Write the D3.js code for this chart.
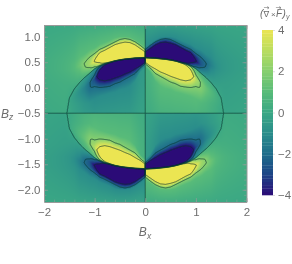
<!DOCTYPE html>
<html>
<head>
<meta charset="utf-8">
<script src="https://cdn.jsdelivr.net/npm/d3@7"></script>
<style>
  html, body { margin: 0; padding: 0; background: #fff; width: 292px; height: 264px; overflow: hidden; }
  #chart { position: relative; width: 292px; height: 264px; filter: blur(0.35px); }
  #chart canvas, #chart svg { position: absolute; left: 0; top: 0; }
  text { font-family: "Liberation Sans", sans-serif; fill: #6e6e6e; }
</style>
</head>
<body>
<div id="chart"></div>
<script>
var svgWidth = 292;
var svgHeight = 264;

var xTicks = [-2, -1, 0, 1, 2];
var zTicks = [-2, -1.5, -1, -0.5, 0, 0.5, 1];
var barTicks = [-4, -2, 0, 2, 4];
var contourLevels = [-4, -2, 0, 2, 4];

var colorDomain = [-4, -3, -2, -1, 0, 1, 2, 3, 4];
var colorRange = ["#2b0b77", "#1d4486", "#1f6d8b", "#2a8d8b", "#3aa784", "#58bb79", "#86cf6f", "#b9dd60", "#ebe552"];

// right upper quadrant (x = 0, 0.1 .. 2.1).
// each column is a stack of heights z with the value at that height, from the top of the plot down to z = -0.5.
// the other three quadrants are the same with the sign flipped.
var colStep = 0.1;
var vTop = [-.15, -.05, -.05, -.07, -.08, -.08, -.08, -.08, -.07, -.06, -.05, -.05, -.04, -.03, -.03, -.02, -.02, -.02, -.01, -.01, -.01, -.01];
var zA = [.8, .87, .94, .99, 1, 1, .98, .93, .89, .85, .78, .74, .66, .6, .55, .55, .55, .55, .55, .55, .55, .55];
var vA = [-1, -1, -1, -1, -1, -1, -1, -1, -1, -1, -1, -1, -1, -1, -.75, -.6, -.5, -.43, -.37, -.32, -.28, -.25];
var zB = [.75, .83, .9, .945, .965, .945, .895, .845, .795, .75, .67, .6, .52, .5, .45, .45, .45, .45, .45, .45, .45, .45];
var vB = [-2, -2, -2, -2, -2, -2, -2, -2, -2, -2, -2, -2, -1.85, -1.3, -.9, -.65, -.53, -.45, -.38, -.33, -.29, -.26];
var zC = [.7, .77, .84, .885, .895, .875, .845, .79, .735, .69, .6, .52, .47, .43, .38, .35, .35, .35, .35, .35, .35, .35];
var vC = [-4, -4, -4, -4, -4, -4, -4, -4, -4, -4, -3.4, -2.5, -2.05, -1.4, -.9, -.65, -.53, -.45, -.38, -.33, -.29, -.26];
var zS = [.64, .635, .63, .62, .61, .595, .575, .55, .53, .56, .52, .45, .4, .32, .2, .1, .1, .1, .1, .1, .1, .1];
var vS = [-9, -9, -9, -10, -10, -10, -10, -10, -9, -6, -4.2, -2.6, -1.9, -1, -.55, -.35, -.33, -.3, -.27, -.24, -.21, -.19];
var zZero = [.59, .585, .58, .57, .56, .545, .525, .5, .47, .43, .375, .285, .2, .1, -.02, -.2, -.8, -.8, -.8, -.8, -.8, -.8];
var vD = [-9, -9, -9, -10, -10, -10, -10, -8, -3.5, -2.5, -1.5, -.9, -.5, -.3, -.18, -.08, -.06, -.05, -.04, -.03, -.03, -.02];
var vE = [10, 10, 10, 10, 10, 10, 10, 4.5, 3, 1.8, .9, .7, .5, .3, .15, .05, 0, 0, 0, 0, 0, 0];
var zU = [.54, .535, .53, .52, .51, .495, .475, .44, .39, .3, .16, .1, 0, -.05, -.13, -.25, -.9, -.9, -.9, -.9, -.9, -.9];
var vU = [10, 10, 10, 10, 10, 10, 10, 9, 8, 5.5, 2.9, 1.9, 1.3, .8, .4, .08, 0, 0, 0, 0, 0, 0];
var zF = [.5, .425, .37, .31, .27, .225, .19, .155, .135, .155, .1, 0, -.05, -.1, -.18, -.3, -.9, -.9, -.9, -.9, -.9, -.9];
var vF = [4, 4, 4, 4, 4, 4, 4, 4, 4, 4, 2.5, 1.9, 1.3, .85, .42, .08, 0, 0, 0, 0, 0, 0];
var zG = [.47, .39, .28, .225, .17, .113, .08, .03, .015, .005, .025, -.05, -.1, -.15, -.22, -.35, -.9, -.9, -.9, -.9, -.9, -.9];
var vG = [2, 2, 2, 2, 2, 2, 2, 2, 2, 2, 2, 1.8, 1.2, .8, .4, .07, 0, 0, 0, 0, 0, 0];
var zH = [.4, .3, .12, .03, -.02, -.04, -.09, -.11, -.14, -.17, -.22, -.3, -.3, -.3, -.35, -.42, -.9, -.9, -.9, -.9, -.9, -.9];
var vH = [.5, .6, .8, 1, 1, 1, 1, 1, 1, 1, 1, .8, .7, .5, .28, .04, 0, 0, 0, 0, 0, 0];

var gap = 0.012;
var zStack = vTop.map(function(d, c) {
  return [1.3, zA[c], zB[c], zC[c], zS[c], zZero[c] + gap, zZero[c] - gap, zU[c], zF[c], zG[c], zH[c], -1];
});
var vStack = vTop.map(function(d, c) {
  return [vTop[c], vA[c], vB[c], vC[c], vS[c], vD[c], vE[c], vU[c], vF[c], vG[c], vH[c], 0];
});

function field(px, pz) {
  var sign = (px < 0 ? -1 : 1) * (pz < -0.5 ? -1 : 1);
  var ax = Math.abs(px);
  var az = pz < -0.5 ? -1 - pz : pz;
  var c = Math.min(Math.floor(ax / colStep), zStack.length - 2);
  var t = ax / colStep - c;
  var zs = zStack[c], ze = zStack[c + 1], vs = vStack[c], ve = vStack[c + 1];
  var zPrev = zs[0] + t * (ze[0] - zs[0]);
  var vPrev = vs[0] + t * (ve[0] - vs[0]);
  if (az >= zPrev) return sign * vPrev;
  for (var a = 1; a < zs.length; a++) {
    var zNow = zs[a] + t * (ze[a] - zs[a]);
    var vNow = vs[a] + t * (ve[a] - vs[a]);
    if (az >= zNow && zPrev > zNow) {
      return sign * (vNow + (az - zNow) / (zPrev - zNow) * (vPrev - vNow));
    }
    zPrev = zNow;
    vPrev = vNow;
  }
  return 0;
}

// contour grid, the cell centres straddle x = 0 and z = -0.5 so the sign flips land on those lines
var fx = 420, fz = 360;
var gridX = d3.scaleLinear().domain([0, fx]).range([-2.1, 2.1]);
var gridZ = d3.scaleLinear().domain([0, fz]).range([1.3, -2.3]);
var grid = new Array(fx * fz);
for (var j = 0; j < fz; j++) {
  for (var i = 0; i < fx; i++) {
    grid[j * fx + i] = field(gridX(i + 0.5), gridZ(j + 0.5));
  }
}

var margin = { top: 25, left: 44, right: 45.5, bottom: 62 };
var x = d3.scaleLinear().domain([-2, 2]).range([margin.left, svgWidth - margin.right]);
var z = d3.scaleLinear().domain([1.23, -2.24]).range([margin.top, svgHeight - margin.bottom]);
var color = d3.scaleLinear().domain(colorDomain).range(colorRange).clamp(true);

var chart = d3.select("#chart");
var canvas = chart.append("canvas").attr("width", svgWidth).attr("height", svgHeight);
var ctx = canvas.node().getContext("2d");

// heat map, one canvas pixel at a time
var x0 = Math.round(x.range()[0]), x1 = Math.round(x.range()[1]);
var y0 = Math.round(z.range()[0]), y1 = Math.round(z.range()[1]);
var img = ctx.createImageData(x1 - x0, y1 - y0);
for (var py = y0; py < y1; py++) {
  for (var px = x0; px < x1; px++) {
    var c = d3.rgb(color(field(x.invert(px + 0.5), z.invert(py + 0.5))));
    var k = ((py - y0) * (x1 - x0) + (px - x0)) * 4;
    img.data[k] = c.r; img.data[k + 1] = c.g; img.data[k + 2] = c.b; img.data[k + 3] = 255;
  }
}
ctx.putImageData(img, x0, y0);

var svg = chart.append("svg").attr("width", svgWidth).attr("height", svgHeight);

svg.append("clipPath").attr("id", "plotClip").append("rect")
  .attr("x", x.range()[0]).attr("y", z.range()[0])
  .attr("width", x.range()[1] - x.range()[0]).attr("height", z.range()[1] - z.range()[0]);

var contourPath = d3.geoPath(d3.geoTransform({
  point: function(a, b) {
    this.stream.point(x(gridX(a)), z(gridZ(b)));
  }
}));
var contours = d3.contours().size([fx, fz]).smooth(true).thresholds(contourLevels)(grid);

svg.append("g").attr("clip-path", "url(#plotClip)")
  .selectAll("path")
  .data(contours)
  .enter()
  .append("path")
  .attr("d", contourPath)
  .attr("fill", "none")
  .attr("stroke", "#0d3b33")
  .attr("stroke-opacity", 0.8)
  .attr("stroke-width", 0.9);

// frame with ticks on all four sides
var frameColor = "#9a9a9a";
function styleAxis(g) {
  g.selectAll(".domain").attr("stroke", frameColor).attr("stroke-width", 1);
  g.selectAll(".tick line").attr("stroke", frameColor).attr("stroke-width", 0.6);
  g.selectAll("text").attr("font-size", 11.5).style("fill", "#6e6e6e");
}
var xMinor = d3.range(-2, 2.01, 0.2);
var zMinor = d3.range(-2.2, 1.21, 0.1);
var fmtX = d3.format("d"), fmtZ = d3.format(".1f");

function addAxis(maker, scale, translate, major, minor, padding, labels, fmt) {
  var size = 4;
  var g = svg.append("g").attr("transform", translate);
  g.call(maker(scale).tickValues(minor).tickSize(-size * 0.6).tickFormat("").tickSizeOuter(0));
  g.selectAll(".tick line").attr("stroke", frameColor).attr("stroke-width", 0.5);
  var h = svg.append("g").attr("transform", translate);
  h.call(maker(scale).tickValues(major).tickSize(-size).tickSizeOuter(0).tickPadding(padding)
    .tickFormat(labels ? fmt : ""));
  styleAxis(h);
  g.select(".domain").remove();
  return h;
}
addAxis(d3.axisBottom, x, "translate(0," + z.range()[1] + ")", xTicks, xMinor, 6, true, fmtX);
addAxis(d3.axisTop, x, "translate(0," + z.range()[0] + ")", xTicks, xMinor, 6, false);
addAxis(d3.axisLeft, z, "translate(" + x.range()[0] + ",0)", zTicks, zMinor, 3.5, true, fmtZ);
addAxis(d3.axisRight, z, "translate(" + x.range()[1] + ",0)", zTicks, zMinor, 6, false);

// axis names
var xName = svg.append("text").attr("x", 145).attr("y", 236).attr("text-anchor", "middle")
  .attr("font-size", 12).attr("font-style", "italic").text("B");
xName.append("tspan").attr("font-size", 8.5).attr("dy", 2.5).text("x");
var zName = svg.append("text").attr("x", 1).attr("y", 117.5)
  .attr("font-size", 12).attr("font-style", "italic").text("B");
zName.append("tspan").attr("font-size", 8.5).attr("dy", 2.5).text("z");

// colour bar
var barX = 262, barW = 11;
var bar = d3.scaleLinear().domain([-4, 4]).range([195, 30]);
var barSteps = d3.range(-4, 4, 0.16);
svg.append("g").selectAll("rect")
  .data(barSteps)
  .enter()
  .append("rect")
  .attr("x", barX)
  .attr("width", barW)
  .attr("y", function(d) { return bar(d + 0.16); })
  .attr("height", function(d) { return bar(d) - bar(d + 0.16) + 0.3; })
  .attr("fill", function(d) { return color(d + 0.08); });

var barAxis = svg.append("g").attr("transform", "translate(" + (barX + barW) + ",0)")
  .call(d3.axisRight(bar).tickValues(barTicks).tickSize(2).tickPadding(3));
barAxis.select(".domain").remove();
barAxis.selectAll(".tick line").attr("stroke", "#bbb").attr("stroke-width", 0.5);
barAxis.selectAll("text").attr("font-size", 11.5).style("fill", "#6e6e6e");

// colour bar title, the vector arrows sit over the letters
var title = svg.append("g").attr("font-size", 10).attr("font-style", "italic");
title.append("text").attr("x", 260).attr("y", 17).text("(");
title.append("text").attr("x", 263.5).attr("y", 17).style("font-family", "DejaVu Sans").attr("font-size", 8.5).text("\u2207");
title.append("text").attr("x", 271).attr("y", 17).attr("font-size", 8).attr("font-style", "normal").text("\u00D7");
title.append("text").attr("x", 276).attr("y", 17).text("F");
title.append("text").attr("x", 282.5).attr("y", 17).text(")");
title.append("text").attr("x", 286).attr("y", 19).attr("font-size", 7).text("y");
title.append("text").attr("x", 263.5).attr("y", 9.5).style("font-family", "DejaVu Sans").attr("font-size", 7).attr("font-style", "normal").text("\u2192");
title.append("text").attr("x", 275.5).attr("y", 9.5).style("font-family", "DejaVu Sans").attr("font-size", 7).attr("font-style", "normal").text("\u2192");
</script>
</body>
</html>
